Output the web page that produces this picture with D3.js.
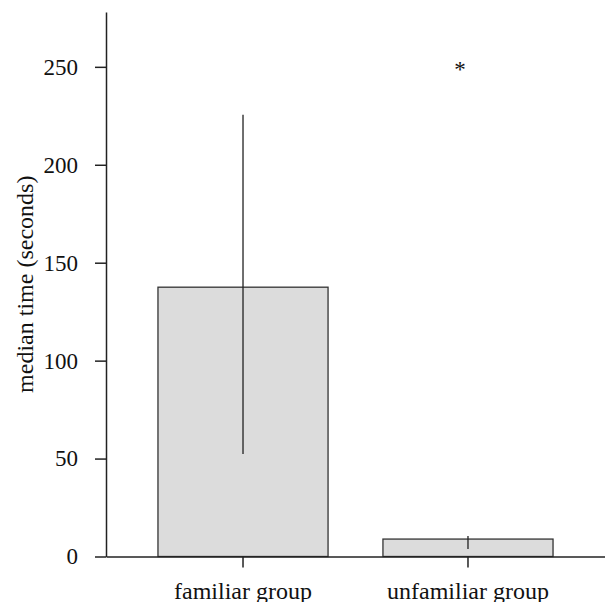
<!DOCTYPE html>
<html>
<head>
<meta charset="utf-8">
<script src="https://cdn.jsdelivr.net/npm/d3@7"></script>
<style>
  body { margin: 0; background: #fff; }
  text { font-family: "Liberation Serif", "DejaVu Serif", serif; fill: #111; }
</style>
</head>
<body>
<svg id="chart" width="605" height="602"></svg>
<script>
const groups = ['familiar group', 'unfamiliar group'];
const medians = [137.5, 8.9];
const errLow = [52.3, 3.8];
const errHigh = [225.5, 10.5];
const yTicks = [0, 50, 100, 150, 200, 250];

const svg = d3.select('#chart');

const x = d3.scaleBand()
  .domain(groups)
  .range([106, 605])
  .paddingInner(0.244)
  .paddingOuter(0.231);

const y = d3.scaleLinear()
  .domain([0, 278])
  .range([556.5, 12]);

// bars
svg.selectAll('rect.bar')
  .data(groups)
  .enter()
  .append('rect')
  .attr('class', 'bar')
  .attr('x', d => x(d))
  .attr('y', (d, i) => y(medians[i]))
  .attr('width', x.bandwidth())
  .attr('height', (d, i) => y(0) - y(medians[i]))
  .attr('fill', '#dcdcdc')
  .attr('stroke', '#333')
  .attr('stroke-width', 1.3);

// error lines, no caps
svg.selectAll('line.err')
  .data(groups)
  .enter()
  .append('line')
  .attr('class', 'err')
  .attr('x1', d => x(d) + x.bandwidth() / 2)
  .attr('x2', d => x(d) + x.bandwidth() / 2)
  .attr('y1', (d, i) => y(errLow[i]))
  .attr('y2', (d, i) => y(errHigh[i]))
  .attr('stroke', '#222')
  .attr('stroke-width', 1.3);

// axes
const yAxis = svg.append('g')
  .attr('transform', 'translate(106,0)')
  .call(d3.axisLeft(y).tickValues(yTicks).tickSizeInner(11).tickSizeOuter(0).tickPadding(17));

const xAxis = svg.append('g')
  .attr('transform', 'translate(0,' + y(0) + ')')
  .call(d3.axisBottom(x).tickSizeInner(11).tickSizeOuter(0).tickPadding(14));

[yAxis, xAxis].forEach(g => {
  g.selectAll('path, line').attr('stroke', '#222').attr('stroke-width', 1.5);
  g.selectAll('text')
    .style('font-family', '"Liberation Serif", serif')
    .style('font-size', '23px')
    .attr('fill', '#111');
});
xAxis.selectAll('text').style('font-size', '24px');

// y label
svg.append('text')
  .attr('transform', 'translate(33,' + ((y(0) + y(278)) / 2) + ') rotate(-90)')
  .attr('text-anchor', 'middle')
  .style('font-size', '24px')
  .text('median time (seconds)');

// significance marker
svg.append('text')
  .attr('x', x(groups[1]) + x.bandwidth() / 2 - 8)
  .attr('y', y(250) + 10)
  .attr('text-anchor', 'middle')
  .style('font-size', '23px')
  .text('*');
</script>
</body>
</html>
